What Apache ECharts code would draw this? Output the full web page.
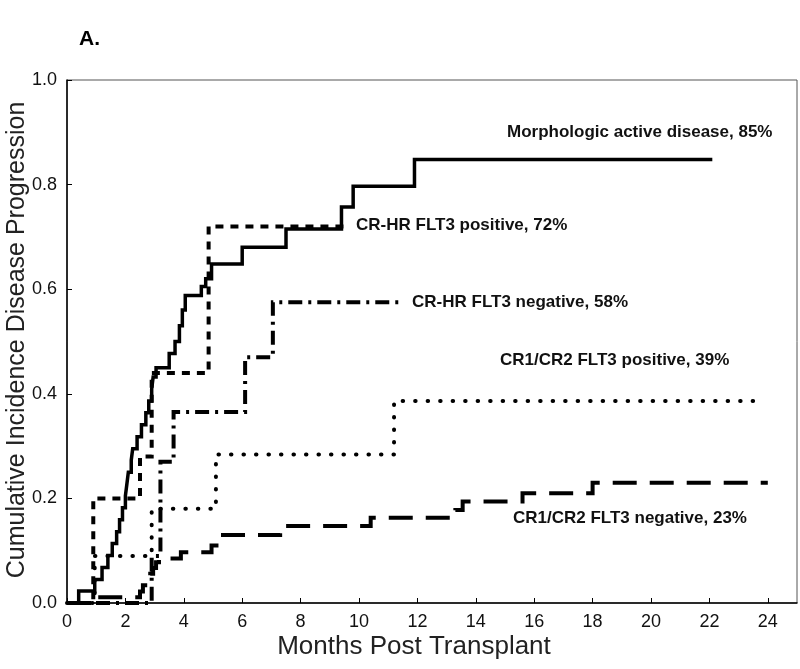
<!DOCTYPE html>
<html>
<head>
<meta charset="utf-8">
<script src="https://cdn.jsdelivr.net/npm/echarts@6/dist/echarts.min.js"></script>
<style>html,body{margin:0;padding:0;background:#fff}#c{width:800px;height:669px}</style>
</head>
<body>
<div id="c"></div>
<script>
// Step change points [month, cumulative incidence]
const morphologic = [[0,0],[0.4,0.023],[0.95,0.045],[1.2,0.068],[1.4,0.091],[1.55,0.114],[1.7,0.136],[1.8,0.159],[1.9,0.182],[2.0,0.205],[2.05,0.227],[2.1,0.25],[2.2,0.273],[2.25,0.295],[2.4,0.318],[2.55,0.341],[2.7,0.364],[2.8,0.386],[2.9,0.409],[2.95,0.432],[3.05,0.45],[3.5,0.477],[3.7,0.5],[3.85,0.53],[3.95,0.56],[4.05,0.588],[4.6,0.605],[4.75,0.62],[4.95,0.648],[6.0,0.68],[7.5,0.715],[9.4,0.757],[9.8,0.797],[11.9,0.848],[22.1,0.848]];
const crhrPos = [[0,0],[0.9,0.2],[2.5,0.28],[2.9,0.44],[4.85,0.72],[9.5,0.72]];
const crhrNeg = [[0,0],[2.9,0.09],[3.2,0.27],[3.65,0.365],[6.1,0.47],[7.05,0.575],[11.4,0.575]];
const cr12Pos = [[0,0],[0.95,0.09],[2.9,0.18],[5.1,0.284],[11.2,0.386],[23.6,0.386]];
const cr12Neg = [[0,0],[1.0,0.011],[2.5,0.022],[2.6,0.034],[2.75,0.045],[2.85,0.056],[2.95,0.067],[3.05,0.078],[3.15,0.085],[3.9,0.097],[4.95,0.11],[5.25,0.13],[7.3,0.147],[10.4,0.163],[13.3,0.178],[13.55,0.194],[15.6,0.21],[18.0,0.23],[24.0,0.23]];
const xTicks = [0,2,4,6,8,10,12,14,16,18,20,22,24];
const yTicks = ['0.0','0.2','0.4','0.6','0.8','1.0'];
const labels = ['Morphologic active disease, 85%','CR-HR FLT3 positive, 72%','CR-HR FLT3 negative, 58%','CR1/CR2 FLT3 positive, 39%','CR1/CR2 FLT3 negative, 23%'];
const xTitle = 'Months Post Transplant';
const yTitle = 'Cumulative Incidence Disease Progression';

const chart = echarts.init(document.getElementById('c'), null, {renderer:'canvas'});
const FONT = 'Liberation Sans, Arial, sans-serif';
function mk(name, data, width, type, cap){
  return {name, type:'line', step:'end', data, symbol:'none', silent:true, animation:false,
    lineStyle:{color:'#000', width, type, cap:cap||'butt', join:'miter'}};
}
const lblPos = [[507,132],[356,225],[412,302],[500,360],[513,518]];
chart.setOption({
  backgroundColor:'#fff',
  animation:false,
  grid:{left:67, top:80, right:3, bottom:66, show:true, borderColor:'#555', borderWidth:1,
    containLabel:false, outerBoundsMode:'none'},
  xAxis:{type:'value', min:0, max:25, interval:2,
    axisLine:{show:true, lineStyle:{color:'#000', width:1.5}},
    axisTick:{show:true, inside:true, length:5, lineStyle:{color:'#000'}},
    axisLabel:{fontFamily:FONT, fontSize:18, color:'#111', margin:10, showMaxLabel:false,
      formatter:v=> xTicks.indexOf(v)>=0 ? String(v) : ''},
    splitLine:{show:false}},
  yAxis:{type:'value', min:0, max:1, interval:0.2,
    axisLine:{show:true, lineStyle:{color:'#000', width:1.5}},
    axisTick:{show:true, inside:true, length:5, lineStyle:{color:'#000'}},
    axisLabel:{fontFamily:FONT, fontSize:18, color:'#111', margin:10,
      formatter:v=> yTicks[Math.round(v*5)]},
    splitLine:{show:false}},
  series:[
    mk('CR1/CR2 FLT3 negative', cr12Neg, 4, [24,13]),
    mk('CR1/CR2 FLT3 positive', cr12Pos, 4, [0.5,12], 'round'),
    mk('CR-HR FLT3 negative', crhrNeg, 4, [14,6,3,6]),
    mk('CR-HR FLT3 positive', crhrPos, 4, [8,7]),
    mk('Morphologic active disease', morphologic, 3.5, 'solid')
  ],
  graphic:[
    {type:'text', x:79, y:29, style:{text:'A.', font:'bold 21px '+FONT, fill:'#000'}},
    {type:'text', x:414, y:647, style:{text:xTitle, font:'26px '+FONT, fill:'#222', align:'center', verticalAlign:'middle'}},
    {type:'text', x:17, y:340, rotation:Math.PI/2, style:{text:yTitle, font:'25px '+FONT, fill:'#222', align:'center', verticalAlign:'middle'}}
  ].concat(labels.map((t,i)=>({type:'text', x:lblPos[i][0], y:lblPos[i][1],
      style:{text:t, font:'bold 17px '+FONT, fill:'#111', verticalAlign:'middle'}})))
});
</script>
</body>
</html>
